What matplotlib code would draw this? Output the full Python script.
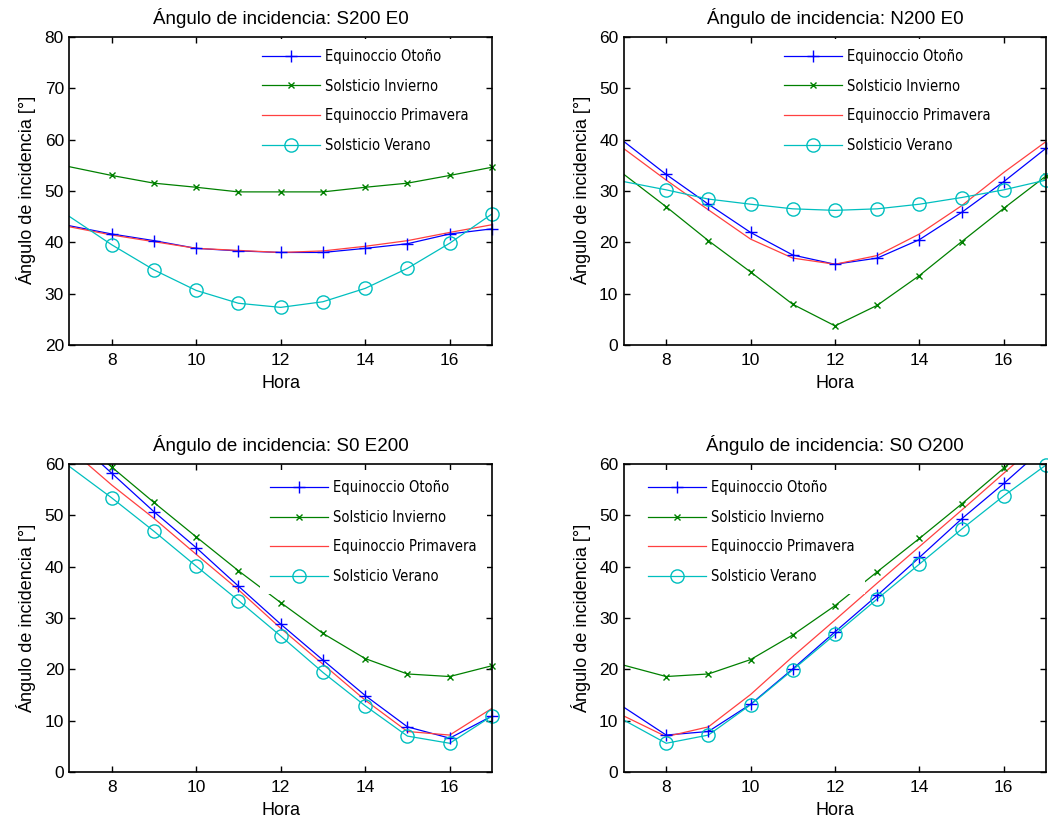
import numpy as np
import matplotlib
matplotlib.use("Agg")
import matplotlib.pyplot as plt
from matplotlib.lines import Line2D
from matplotlib.font_manager import FontProperties

hours = [7, 8, 9, 10, 11, 12, 13, 14, 15, 16, 17]
xticks = [8, 10, 12, 14, 16]

series_labels = ["Equinoccio Otoño", "Solsticio Invierno", "Equinoccio Primavera", "Solsticio Verano"]

# S200 E0
oto1 = [43.2, 41.6, 40.3, 38.8, 38.3, 38.0, 38.0, 38.8, 39.7, 41.6, 42.6]
inv1 = [54.7, 53.0, 51.5, 50.7, 49.8, 49.8, 49.8, 50.7, 51.5, 53.0, 54.6]
pri1 = [43.0, 41.4, 40.1, 38.8, 38.4, 38.0, 38.3, 39.2, 40.3, 41.9, 43.4]
ver1 = [45.0, 39.5, 34.6, 30.6, 28.1, 27.3, 28.4, 31.0, 34.9, 39.8, 45.5]

# N200 E0
oto2 = [39.6, 33.2, 27.4, 21.9, 17.5, 15.7, 16.9, 20.5, 25.8, 31.8, 38.3]
inv2 = [33.2, 26.9, 20.3, 14.2, 7.9, 3.7, 7.7, 13.5, 20.1, 26.6, 32.9]
pri2 = [38.2, 32.1, 26.3, 20.6, 16.9, 15.7, 17.4, 21.6, 27.1, 33.6, 39.6]
ver2 = [31.8, 30.2, 28.4, 27.4, 26.5, 26.2, 26.5, 27.4, 28.7, 30.2, 32.1]

# S0 E200
oto3 = [65.7, 58.2, 50.7, 43.7, 36.2, 28.8, 21.8, 14.9, 8.8, 6.6, 10.9]
inv3 = [66.3, 59.4, 52.5, 45.8, 39.2, 33.0, 27.0, 22.1, 19.1, 18.6, 20.7]
pri3 = [63.0, 55.9, 49.4, 42.4, 35.5, 28.0, 21.0, 14.0, 7.9, 7.2, 12.4]
ver3 = [59.5, 53.4, 46.9, 40.1, 33.4, 26.5, 19.4, 12.9, 7.0, 5.6, 10.9]

# S0 O200
oto4 = [12.6, 7.2, 7.9, 13.2, 20.1, 27.3, 34.4, 41.8, 49.3, 56.2, 63.5]
inv4 = [20.8, 18.6, 19.1, 21.9, 26.7, 32.4, 39.0, 45.5, 52.2, 59.2, 66.0]
pri4 = [10.9, 6.9, 8.8, 15.1, 22.5, 29.6, 36.8, 43.9, 51.0, 58.2, 65.4]
ver4 = [10.1, 5.6, 7.2, 13.1, 19.9, 26.8, 33.7, 40.5, 47.3, 53.8, 59.8]

panels = [
    dict(title="Ángulo de incidencia: S200 E0", data=[oto1, inv1, pri1, ver1], ylim=(20, 80),
         rect=[0.0663, 0.582, 0.4031, 0.3733], leg=(0.4315, 0.9938)),
    dict(title="Ángulo de incidencia: N200 E0", data=[oto2, inv2, pri2, ver2], ylim=(0, 60),
         rect=[0.5954, 0.582, 0.4027, 0.3733], leg=(0.355, 0.9938)),
    dict(title="Ángulo de incidencia: S0 E200", data=[oto3, inv3, pri3, ver3], ylim=(0, 60),
         rect=[0.0663, 0.0642, 0.4031, 0.3734], leg=(0.4504, 0.981)),
    dict(title="Ángulo de incidencia: S0 O200", data=[oto4, inv4, pri4, ver4], ylim=(0, 60),
         rect=[0.5954, 0.0642, 0.4027, 0.3734], leg=(0.0327, 0.981)),
]

styles = [
    dict(color=(0, 0, 1), marker="+", ms=9, mew=1.0),
    dict(color=(0, 0.5, 0), marker="x", ms=4.2, mew=1.0),
    dict(color=(1, 0.25, 0.25), marker=None, ms=0, mew=0),
    dict(color=(0, 0.75, 0.75), marker="o", ms=9.5, mew=1.0),
]

plt.rcParams["font.family"] = ["Liberation Sans", "DejaVu Sans"]

legfont = FontProperties(family="DejaVu Sans", stretch="condensed", size=10.5)

fig = plt.figure(figsize=(10.48, 8.25), dpi=100)
x = np.array(hours, dtype=float)

for p in panels:
    ax = fig.add_axes(p["rect"])
    lo, hi = p["ylim"]
    handles = []
    for vals, st, lab in zip(p["data"], styles, series_labels):
        y = np.array(vals, dtype=float)
        ax.plot(x, y, color=st["color"], lw=0.9, zorder=2)
        if st["marker"]:
            m = (x > x[0]) & (y >= lo) & (y <= hi)
            ax.plot(x[m], y[m], ls="none", marker=st["marker"], ms=st["ms"], mew=st["mew"],
                    mfc="none", mec=st["color"], clip_on=False, zorder=3)
        handles.append(Line2D([], [], color=st["color"], lw=0.9, marker=st["marker"],
                              ms=st["ms"], mew=st["mew"], mfc="none", mec=st["color"]))
    ax.set_xlim(7, 17)
    ax.set_ylim(lo, hi)
    ax.set_xticks(xticks)
    ax.set_yticks(np.arange(lo, hi + 1, 10))
    ax.tick_params(direction="in", length=4, width=1, top=True, right=True,
                   labelsize=12.5, pad=6)
    ax.tick_params(axis="y", pad=4)
    for s in ax.spines.values():
        s.set_linewidth(1.2)
        s.set_zorder(6)
    ax.set_title(p["title"], fontsize=13.5, pad=9)
    ax.set_xlabel("Hora", fontsize=13, labelpad=5)
    ax.set_ylabel("Ángulo de incidencia [°]", fontsize=13, labelpad=6)
    leg = ax.legend(handles, series_labels, loc="upper left", bbox_to_anchor=p["leg"],
                    bbox_transform=ax.transAxes, borderaxespad=0, borderpad=0.7,
                    numpoints=1, handlelength=3.95, handletextpad=0.35, labelspacing=1.0,
                    frameon=True, fancybox=False, framealpha=1, prop=legfont)
    leg.get_frame().set_facecolor("white")
    leg.get_frame().set_edgecolor("none")
    leg.set_zorder(5)

fig.savefig("out.png", dpi=100)
